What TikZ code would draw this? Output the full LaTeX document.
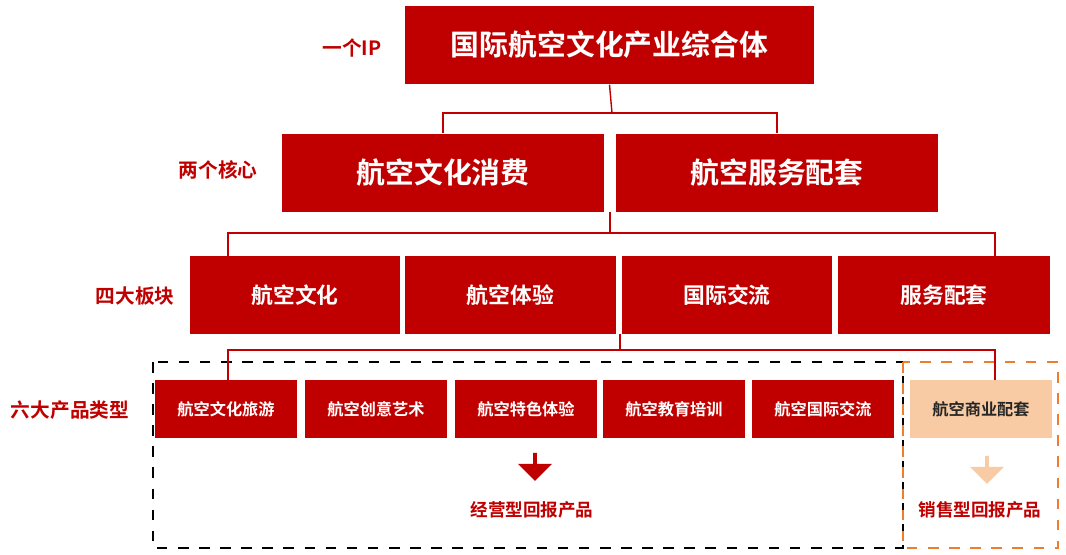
\documentclass[tikz,border=0pt]{standalone}
\usepackage{fontspec}
\setmainfont{Noto Sans CJK SC}[BoldFont={Noto Sans CJK SC Bold}]
\usetikzlibrary{shapes.arrows}
\definecolor{hred}{HTML}{C00000}
\definecolor{peach}{HTML}{F8CBA4}
\definecolor{dorange}{HTML}{ED7D31}
\tikzset{
    box/.style = {rectangle, fill=hred, text=white, inner sep=0pt, font=\bfseries},
    lbl/.style = {text=hred, font=\bfseries\fontsize{5.6}{7}\selectfont},
    link/.style = {draw=hred, line width=0.4pt},
    dnarrow/.style = {single arrow, rotate=-90, minimum height=0.28cm, minimum width=0.34cm, single arrow head extend=0.06cm, inner sep=0pt}
}
\begin{document}
\begin{tikzpicture}[x=0.01cm, y=-0.01cm]
    \useasboundingbox (0,0) rectangle (1066,555);

    % level 0
    \node [box, minimum width=4.09cm, minimum height=0.78cm, font=\bfseries\fontsize{8.2}{10}\selectfont] (ip) at (609.5,45) {国际航空文化产业综合体};
    \node [lbl] (l0) at (352,48) {一个IP};

    % level 1
    \node [box, minimum width=3.22cm, minimum height=0.78cm, font=\bfseries\fontsize{8.2}{10}\selectfont] (core1) at (443,173) {航空文化消费};
    \node [box, minimum width=3.22cm, minimum height=0.78cm, font=\bfseries\fontsize{8.2}{10}\selectfont] (core2) at (777,173) {航空服务配套};
    \node [lbl] (l1) at (218,170) {两个核心};

    % level 2
    \node [box, minimum width=2.1cm, minimum height=0.78cm, font=\bfseries\fontsize{6.2}{8}\selectfont] (blk1) at (295,295) {航空文化};
    \node [box, minimum width=2.11cm, minimum height=0.78cm, font=\bfseries\fontsize{6.2}{8}\selectfont] (blk2) at (510.5,295) {航空体验};
    \node [box, minimum width=2.1cm, minimum height=0.78cm, font=\bfseries\fontsize{6.2}{8}\selectfont] (blk3) at (727,295) {国际交流};
    \node [box, minimum width=2.12cm, minimum height=0.78cm, font=\bfseries\fontsize{6.2}{8}\selectfont] (blk4) at (944,295) {服务配套};
    \node [lbl] (l2) at (135,296) {四大板块};

    % level 3
    \foreach \name/\x/\txt in {p1/226/航空文化旅游, p2/376/航空创意艺术, p3/526/航空特色体验, p4/674/航空教育培训, p5/823/航空国际交流}
        \node [box, minimum width=1.42cm, minimum height=0.58cm, font=\bfseries\fontsize{4.6}{6}\selectfont] (\name) at (\x,409) {\txt};
    \node [box, fill=peach, text=black!85, minimum width=1.42cm, minimum height=0.58cm, font=\bfseries\fontsize{4.6}{6}\selectfont] (p6) at (981,409) {航空商业配套};
    \node [lbl] (l3) at (70,410) {六大产品类型};

    % groups
    \draw [dashed, line width=0.6pt] (153,362) rectangle (903,548);
    \draw [dashed, draw=dorange, line width=0.6pt] (903,362) rectangle (1058,548);

    % connectors
    \coordinate (j0) at (612,113);
    \draw [link] (ip.south) -- (j0);
    \draw [link] (core1.north) |- (j0) -| (core2.north);
    \coordinate (j1) at (610,233);
    \draw [link] (610,212) -- (j1);
    \draw [link] (j1) -| (228,256);
    \draw [link] (j1) -| (995,256);
    \coordinate (j2) at (620,350);
    \draw [link] (620,334) -- (j2);
    \draw [link] (j2) -| (228,380);
    \draw [link] (j2) -| (995,380);

    % results
    \node [dnarrow, fill=hred] (a1) at (535,466) {};
    \node [lbl, font=\bfseries\fontsize{5}{6}\selectfont] (r1) at (532,510) {经营型回报产品};
    \node [dnarrow, fill=peach] (a2) at (987,469) {};
    \node [lbl, font=\bfseries\fontsize{5}{6}\selectfont] (r2) at (980,510) {销售型回报产品};
\end{tikzpicture}
\end{document}
